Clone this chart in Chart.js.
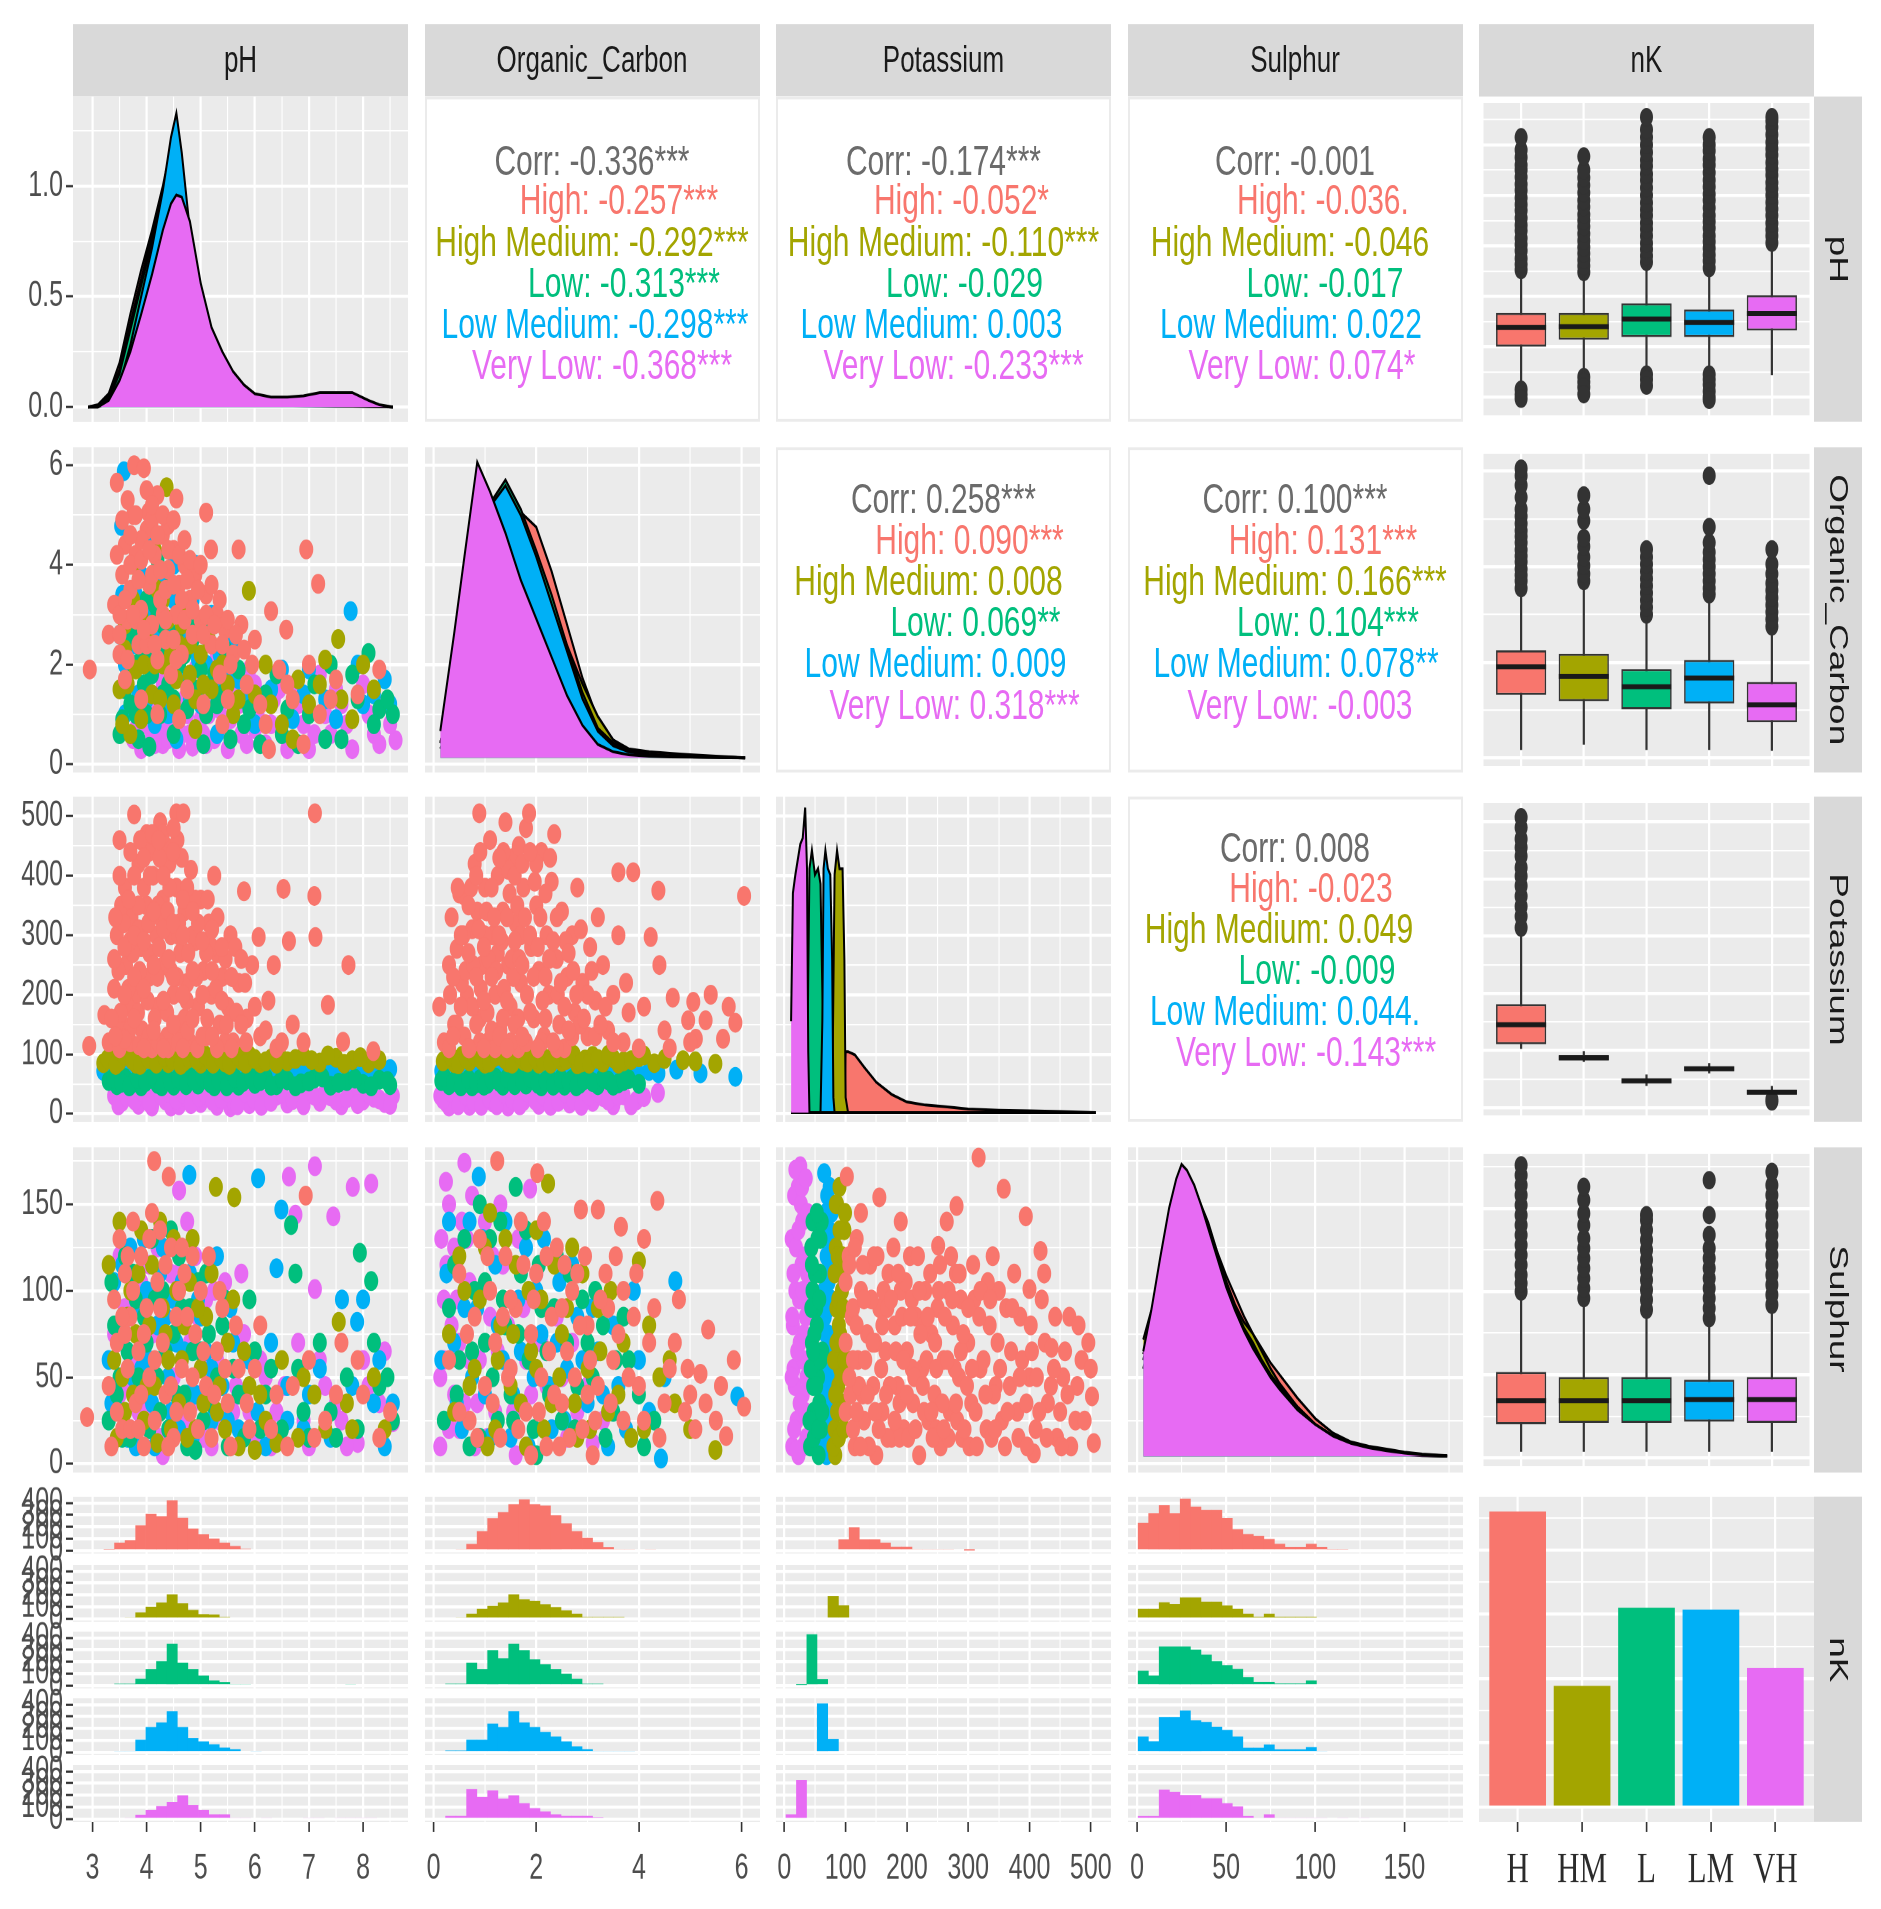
<!DOCTYPE html>
<html>
<head>
<meta charset="utf-8">
<title>Pairs plot by nK class</title>
<script src="https://cdn.jsdelivr.net/npm/chart.js@4.4.1/dist/chart.umd.min.js"></script>
<style>
  html, body { margin: 0; padding: 0; background: #ffffff; }
  body { width: 1881px; height: 1909px; overflow: hidden; }
  #fig { position: relative; width: 1881px; height: 1345px; transform: scaleY(1.42); transform-origin: 0 0;
         font-family: "Liberation Sans", Arial, sans-serif; }
  .strip { position: absolute; background: #D9D9D9; color: #1A1A1A; font-size: 26px;
           display: flex; align-items: center; justify-content: center; }
  .strip.side { writing-mode: vertical-rl; }
  .corr { position: absolute; background: #fff; border: 2px solid #EBEBEB; box-sizing: border-box; overflow: hidden; }
  .corr div { position: absolute; left: 0; width: 100%; text-align: center; white-space: nowrap;
              font-size: 30px; line-height: 30px; height: 30px; }
</style>
</head>
<body>
<div id="fig"></div>
<script>
// ---------------- data ----------------
const groups = ['High', 'High Medium', 'Low', 'Low Medium', 'Very Low'];
const barLabels = ['H', 'HM', 'L', 'LM', 'VH'];
const colors = ['#F8766D', '#A3A500', '#00BF7D', '#00B0F6', '#E76BF3'];
const varNames = ['pH', 'Organic_Carbon', 'Potassium', 'Sulphur', 'nK'];
const groupCounts = [2300, 943, 1551, 1536, 1084];

// axis limits (ggplot padding included) and major ticks
const pHLim = [2.64, 8.83], pHTicks = [3, 4, 5, 6, 7, 8];
const ocLim = [-0.168, 6.36], ocTicks = [0, 2, 4, 6];
const kLim = [-13.6, 533], kTicks = [0, 100, 200, 300, 400, 500];
const sLim = [-5.06, 182.9], sTicks = [0, 50, 100, 150];
const densTicks = [0, 0.5, 1.0];
const countTicks = [0, 100, 200, 300, 400];
const barTicks = [0, 500, 1000, 1500, 2000];

// correlation panels
const corr_pH_OC = ['Corr: -0.336***', 'High: -0.257***', 'High Medium: -0.292***', 'Low: -0.313***', 'Low Medium: -0.298***', 'Very Low: -0.368***'];
const corr_pH_K  = ['Corr: -0.174***', 'High: -0.052*', 'High Medium: -0.110***', 'Low: -0.029', 'Low Medium: 0.003', 'Very Low: -0.233***'];
const corr_pH_S  = ['Corr: -0.001', 'High: -0.036.', 'High Medium: -0.046', 'Low: -0.017', 'Low Medium: 0.022', 'Very Low: 0.074*'];
const corr_OC_K  = ['Corr: 0.258***', 'High: 0.090***', 'High Medium: 0.008', 'Low: 0.069**', 'Low Medium: 0.009', 'Very Low: 0.318***'];
const corr_OC_S  = ['Corr: 0.100***', 'High: 0.131***', 'High Medium: 0.166***', 'Low: 0.104***', 'Low Medium: 0.078**', 'Very Low: -0.003'];
const corr_K_S   = ['Corr: 0.008', 'High: -0.023', 'High Medium: 0.049', 'Low: -0.009', 'Low Medium: 0.044.', 'Very Low: -0.143***'];

// densities (H, HM, L, LM, VL)
const DX_PH = [2.92,3.1,3.3,3.5,3.7,3.9,4.1,4.3,4.45,4.55,4.65,4.8,5.0,5.2,5.4,5.6,5.8,6.0,6.3,6.6,6.9,7.2,7.5,7.8,8.1,8.3,8.55];
const DENS_PH = [
  [0,0.01,0.06,0.2,0.42,0.62,0.8,1.0,1.18,1.26,1.1,0.8,0.5,0.3,0.18,0.1,0.05,0.03,0.015,0.01,0.008,0.005,0.005,0.005,0.003,0.002,0],
  [0,0.005,0.05,0.17,0.38,0.58,0.78,0.98,1.15,1.22,1.08,0.78,0.48,0.28,0.15,0.08,0.04,0.02,0.01,0.008,0.005,0.004,0.003,0.003,0.002,0.001,0],
  [0,0.005,0.04,0.15,0.35,0.55,0.75,0.95,1.15,1.25,1.1,0.78,0.47,0.28,0.16,0.09,0.05,0.03,0.02,0.015,0.01,0.01,0.01,0.015,0.008,0.003,0],
  [0,0,0.02,0.1,0.28,0.5,0.72,0.98,1.22,1.33,1.15,0.8,0.48,0.28,0.16,0.09,0.05,0.03,0.015,0.01,0.008,0.006,0.005,0.004,0.003,0.002,0],
  [0,0,0.03,0.12,0.25,0.42,0.6,0.8,0.92,0.96,0.95,0.84,0.56,0.36,0.25,0.16,0.1,0.06,0.045,0.045,0.05,0.065,0.065,0.065,0.03,0.01,0]
];
const DX_OC = [0.13,0.4,0.6,0.85,1.1,1.4,1.7,2.0,2.3,2.6,2.9,3.2,3.5,3.8,4.2,4.6,5.0,5.5,6.07];
const DENS_OC = [
  [0.03,0.15,0.3,0.5,0.65,0.76,0.83,0.78,0.63,0.45,0.27,0.13,0.06,0.03,0.02,0.015,0.01,0.005,0],
  [0.05,0.25,0.45,0.7,0.84,0.9,0.8,0.68,0.53,0.38,0.25,0.14,0.06,0.025,0.012,0.006,0.003,0.002,0],
  [0.05,0.25,0.45,0.7,0.86,0.94,0.84,0.7,0.55,0.38,0.22,0.1,0.05,0.02,0.01,0.005,0.003,0.002,0],
  [0.05,0.25,0.45,0.7,0.85,0.92,0.82,0.68,0.52,0.36,0.2,0.09,0.04,0.02,0.01,0.005,0.003,0.002,0],
  [0.09,0.42,0.68,1.0,0.9,0.76,0.6,0.47,0.34,0.21,0.11,0.045,0.02,0.01,0.005,0.003,0.002,0.001,0]
];
const DX_K = [11,14,18,22,26,30,34,37,39,41,45,50,55,59,62,64,67,71,75,78,80,82,86,90,95,98,100,104,115,130,150,175,200,230,260,300,350,400,450,508];
const DENS_K = [
  [0,0,0,0,0,0,0,0,0,0, 0,0,0,0,0,0,0,0,0,0, 0,0,0,0,0,0, 0.2,0.2,0.19,0.15,0.1,0.06,0.035,0.025,0.02,0.012,0.008,0.006,0.004,0],
  [0,0,0,0,0,0,0,0,0,0, 0,0,0,0,0,0,0,0,0,0, 0.4,0.78,0.86,0.8,0.8,0.5,0.05, 0,0,0,0,0,0,0,0,0,0,0,0,0],
  [0,0,0,0,0,0,0,0, 0.45,0.8,0.86,0.78,0.8,0.75,0.4,0.05, 0,0,0,0,0,0,0,0,0,0,0,0,0,0,0,0,0,0,0,0,0,0,0,0],
  [0,0,0,0,0,0,0,0,0,0,0,0,0,0, 0.3,0.8,0.86,0.8,0.78,0.5,0.05, 0,0,0,0,0,0,0,0,0,0,0,0,0,0,0,0,0,0,0],
  [0.3,0.72,0.78,0.83,0.88,0.9,1.0,0.8,0.2,0, 0,0,0,0,0,0,0,0,0,0, 0,0,0,0,0,0,0,0,0,0, 0,0,0,0,0,0,0,0,0,0]
];
const DX_S = [3.5,8,13,18,22,25,28,32,36,40,45,50,55,60,65,70,75,80,90,100,110,120,130,140,150,160,174];
const DENS_S = [
  [0.3,0.42,0.6,0.78,0.88,0.93,0.95,0.92,0.86,0.8,0.7,0.62,0.55,0.48,0.42,0.37,0.32,0.28,0.2,0.13,0.08,0.05,0.035,0.025,0.015,0.008,0.003],
  [0.4,0.5,0.62,0.75,0.84,0.9,0.93,0.91,0.86,0.79,0.7,0.6,0.52,0.46,0.42,0.36,0.3,0.25,0.17,0.11,0.07,0.04,0.025,0.015,0.01,0.005,0.002],
  [0.33,0.45,0.64,0.8,0.9,0.96,0.97,0.93,0.86,0.78,0.68,0.59,0.51,0.44,0.39,0.33,0.28,0.24,0.17,0.11,0.07,0.04,0.025,0.015,0.008,0.004,0.001],
  [0.35,0.47,0.66,0.83,0.93,0.98,0.97,0.92,0.85,0.77,0.67,0.58,0.5,0.43,0.38,0.32,0.27,0.23,0.16,0.1,0.06,0.035,0.02,0.012,0.007,0.003,0.001],
  [0.36,0.5,0.68,0.85,0.95,1.0,0.98,0.93,0.86,0.78,0.68,0.58,0.5,0.43,0.37,0.32,0.27,0.23,0.16,0.11,0.07,0.045,0.03,0.02,0.012,0.006,0.002]
];

// histogram bins (centres) and counts per class
const BINS_PH = [2.92,3.11,3.31,3.50,3.70,3.89,4.08,4.28,4.47,4.67,4.86,5.05,5.25,5.44,5.64,5.83,6.02,6.22,6.41,6.61,6.80,6.99,7.19,7.38,7.58,7.77,7.96,8.16,8.35,8.55];
const HIST_PH = [
  [0,0,10,69,89,213,310,289,420,275,186,138,103,69,41,17,0,0,0,0,0,0,0,0,0,0,0,0,0,0],
  [0,0,0,0,14,55,103,138,206,131,76,41,38,17,0,0,0,0,0,0,0,0,0,0,0,0,0,0,0,0],
  [0,0,0,17,17,58,138,206,351,193,138,86,45,31,14,14,0,0,0,0,0,0,0,0,0,14,0,0,0,0],
  [0,0,0,14,14,107,213,251,344,213,120,93,69,41,28,0,14,0,0,0,0,0,0,0,0,0,0,0,0,0],
  [0,0,0,0,14,38,79,110,144,200,120,79,41,41,14,14,0,14,0,0,0,14,14,0,14,14,14,14,0,0]
];
const BINS_OC = [0.13,0.33,0.54,0.74,0.95,1.15,1.36,1.56,1.77,1.97,2.18,2.38,2.59,2.79,3.00,3.20,3.41,3.61,3.82,4.02,4.23,4.43,4.64,4.84,5.05,5.25,5.46,5.66,5.87,6.07];
const HIST_OC = [
  [0,0,14,58,165,272,323,389,430,389,378,296,230,165,110,72,31,14,14,0,14,0,0,0,0,0,0,0,0,0],
  [0,0,14,45,86,110,138,206,165,151,124,100,72,45,17,17,17,17,0,0,0,0,0,0,0,0,0,0,0,0],
  [0,17,17,193,138,296,230,351,296,220,179,138,100,58,17,17,0,0,0,0,0,0,0,0,0,0,0,0,0,0],
  [0,17,17,107,107,241,213,344,251,213,172,134,93,52,28,14,14,14,14,0,0,0,0,0,0,0,0,0,0,0],
  [0,28,28,251,186,241,172,200,134,93,65,41,28,28,28,17,0,0,0,0,0,0,0,0,0,0,0,0,0,0]
];
const BINS_K = [11,28,45,62,80,97,114,131,148,165,182,200,217,234,251,268,285,302,319,337,354,371,388,405,422,440,457,474,491,508];
const HIST_K = [
  [0,0,0,0,0,96,196,96,96,69,34,34,14,14,14,14,0,4,0,0,0,0,0,0,0,0,0,0,0,0],
  [0,0,0,0,191,114,0,0,0,0,0,0,0,0,0,0,0,0,0,0,0,0,0,0,0,0,0,0,0,0],
  [0,7,430,55,0,0,0,0,0,0,0,0,0,0,0,0,0,0,0,0,0,0,0,0,0,0,0,0,0,0],
  [0,0,0,409,114,0,0,0,0,0,0,0,0,0,0,0,0,0,0,0,0,0,0,0,0,0,0,0,0,0],
  [41,327,0,0,0,0,0,0,0,0,0,0,0,0,0,0,0,0,0,0,0,0,0,0,0,0,0,0,0,0]
];
const BINS_S = [3.5,9.4,15.3,21.2,27.1,33.0,38.9,44.8,50.6,56.5,62.4,68.3,74.2,80.1,86.0,91.9,97.8,103.7,109.6,115.4,121.4,127.3,133.2,139.1,145.0,150.8,156.8,162.7,168.6,174.4];
const HIST_S = [
  [234,314,381,314,435,368,341,341,274,180,140,126,99,59,32,32,59,32,11,11,0,0,0,0,0,0,0,0,0,0],
  [86,86,140,126,180,180,145,145,113,86,45,19,45,19,19,19,19,0,0,0,0,0,0,0,0,0,0,0,0,0],
  [126,86,327,327,327,301,260,206,172,140,72,32,32,19,19,19,45,0,0,0,0,0,0,0,0,0,0,0,0,0],
  [134,94,296,296,349,268,255,215,188,134,40,40,67,27,27,27,45,14,0,0,0,0,0,0,0,0,0,0,0,0],
  [27,27,247,228,202,202,175,175,134,107,27,14,41,14,14,14,14,14,0,14,0,14,0,0,0,0,0,0,0,0]
];

// box plots: [lower whisker, q1, median, q3, upper whisker] per class
const BOX_PH = [[3.23,4.00,4.38,4.67,5.46],[3.47,4.14,4.40,4.67,5.42],[3.53,4.19,4.55,4.86,5.61],[3.53,4.19,4.48,4.74,5.50],[3.44,4.32,4.66,5.02,5.99]];
const BOX_OC = [[0.17,1.32,1.91,2.25,3.49],[0.28,1.19,1.71,2.18,3.62],[0.17,1.02,1.49,1.86,2.95],[0.17,1.14,1.67,2.05,3.36],[0.15,0.75,1.11,1.59,2.69]];
const BOX_K  = [[103,111,145,181,300],[80,83,87,92,99],[38,43,47,51,58],[60,64,68,72,78],[18,23,27,31,38]];
const BOX_S  = [[3.6,20.1,34.3,51.6,97.6],[3.6,21,34.3,48.6,93.8],[3.6,21,34.3,48.6,86.3],[3.6,21.7,35,47,82],[3.6,21,35,48.6,90]];
const OUT_PH = [
  [5.52,5.63,5.75,5.9,6.02,6.15,6.3,6.41,6.55,6.7,6.82,6.95,7.1,7.22,7.36,7.5,7.6,7.75,7.9,8.15,3.15,3.05,2.97],
  [5.48,5.6,5.72,5.85,5.97,6.1,6.24,6.38,6.5,6.62,6.77,6.9,7.05,7.2,7.35,7.5,7.77,3.4,3.3,3.2,3.06],
  [5.68,5.8,5.93,6.05,6.2,6.33,6.45,6.6,6.72,6.85,7.0,7.15,7.3,7.42,7.58,7.7,7.85,8.0,8.15,8.3,8.55,3.45,3.35,3.23],
  [5.56,5.7,5.82,5.95,6.08,6.2,6.35,6.48,6.6,6.75,6.9,7.02,7.17,7.3,7.45,7.6,7.72,7.88,8.0,8.15,3.45,3.35,3.25,3.12,3.0,2.95],
  [6.06,6.2,6.32,6.45,6.6,6.73,6.86,7.0,7.13,7.25,7.4,7.52,7.65,7.8,7.92,8.05,8.2,8.35,8.48,8.55]
];
const OUT_OC = [
  [3.55,3.7,3.82,3.95,4.1,4.22,4.35,4.5,4.63,4.75,4.9,5.05,5.2,5.45,5.7,5.9,6.05],
  [3.7,3.85,4.02,4.2,4.42,4.6,4.96,5.2,5.49],
  [3.0,3.15,3.3,3.45,3.6,3.75,3.9,4.05,4.2,4.36],
  [3.42,3.55,3.7,3.85,4.0,4.15,4.3,4.5,4.83,5.9],
  [2.75,2.9,3.05,3.2,3.35,3.5,3.65,3.85,4.05,4.36]
];
const OUT_K = [[315,335,352,370,388,405,420,440,455,470,490,508],[],[],[],[11,14]];
const OUT_S = [
  [100,105,110,116,122,128,134,140,146,152,158,164,170,176],
  [96,102,108,114,120,126,132,140,147,155,163],
  [89,95,101,107,113,119,125,131,137,143,146],
  [84,90,96,102,108,114,120,126,134,146,167],
  [92,98,104,110,116,122,128,134,140,146,152,158,164,172]
];

// scatter points "x,y" per class (H, HM, L, LM, VL)
const SC_PH_OC = [
  '2.95,1.9 3.3,2.6 3.4,3.2 3.45,5.65 3.5,2.2 3.55,3.8 3.6,4.4 3.65,2.9 3.7,3.5 3.75,5.0 3.77,6.0 3.8,4.2 3.85,2.4 3.9,3.1 3.95,5.94 4.0,4.7 4.03,5.05 4.05,3.6 4.1,2.8 4.15,4.2 4.2,5.4 4.25,3.3 4.3,4.6 4.35,2.5 4.4,3.9 4.45,1.8 4.5,4.3 4.55,5.33 4.55,3.0 4.6,3.6 4.65,2.2 4.7,4.0 4.75,1.5 4.8,3.3 4.85,2.6 4.9,3.8 5.0,2.9 5.05,1.2 5.1,5.05 5.1,3.4 5.2,2.4 5.19,4.31 5.3,3.0 5.35,1.8 5.45,2.7 5.5,1.3 5.6,2.2 5.7,4.31 5.75,2.8 5.85,1.6 6.0,2.5 6.1,1.2 6.26,0.3 6.3,3.07 6.45,1.9 6.58,2.7 6.7,1.3 6.95,4.31 7.17,3.62 7.2,1.0 7.5,1.7 7.9,1.4 3.9,1.3 4.2,1.0 3.6,1.7 4.6,0.9 5.4,0.8 6.9,0.4 3.5,3.0 3.7,4.0 3.9,4.5 4.1,3.8 4.3,3.0 4.5,2.5 4.7,2.9 4.2,2.1 4.0,2.4 3.8,2.9 4.4,4.8 4.1,4.9 ' +
  '3.45,4.2 3.55,4.9 3.65,5.3 3.7,4.6 3.8,5.0 3.85,3.7 3.9,4.1 4.0,5.5 4.05,4.3 4.1,5.2 4.2,4.6 4.25,3.9 4.3,5.0 4.35,3.5 4.4,4.3 4.5,3.6 4.5,4.9 4.6,4.2 4.65,3.3 4.7,4.5 4.75,3.7 4.8,4.1 4.85,3.1 4.95,3.5 5.0,4.0 5.05,2.6 5.1,3.0 5.2,3.6 5.25,2.8 5.35,3.3 5.4,2.4 5.5,2.9 5.55,2.0 5.65,2.6 5.8,2.3 5.95,2.0 3.6,3.3 3.75,3.0 3.95,2.7 4.15,2.4 4.35,2.9 4.55,2.1 3.5,2.6 3.65,2.1 6.2,0.8 6.6,1.6 7.0,2.0 7.4,1.3 8.3,1.9',
  '3.5,1.5 3.6,2.3 3.7,0.6 3.8,1.9 3.9,3.0 4.0,2.6 4.1,1.4 4.2,3.5 4.3,2.0 4.37,5.56 4.4,2.9 4.5,1.2 4.6,2.4 4.7,3.1 4.8,1.8 4.9,0.7 5.0,2.2 5.2,1.5 5.4,2.0 5.6,1.0 5.89,3.48 6.0,1.4 6.2,2.0 6.5,0.8 6.8,1.7 7.0,1.2 7.3,2.1 7.54,2.51 7.8,0.9 8.2,1.5 3.75,4.0 4.15,4.3 3.55,0.8 ' +
  '3.65,1.6 3.75,3.3 3.9,0.9 3.95,2.0 4.05,3.6 4.15,2.0 4.25,1.3 4.3,3.3 4.45,2.2 4.55,1.7 4.65,2.8 4.8,2.4 4.9,1.3 5.05,1.6 5.15,2.5 5.3,1.9 5.5,1.6 5.7,1.3 3.6,2.8 6.3,1.2 6.7,0.5 7.2,1.6 7.6,1.3 8.0,2.0',
  '3.55,0.9 3.7,1.2 3.75,2.0 3.85,0.5 3.95,1.6 4.0,3.3 4.05,0.35 4.1,2.3 4.2,4.1 4.25,1.0 4.3,2.8 4.4,1.6 4.45,3.6 4.5,0.6 4.6,2.0 4.65,3.2 4.75,1.1 4.85,2.5 4.95,1.5 5.05,0.4 5.15,2.8 5.3,1.2 5.45,2.3 5.55,0.5 5.7,1.9 5.9,1.1 6.1,0.4 6.4,1.8 6.6,1.1 6.8,0.4 7.1,1.6 7.6,0.5 7.9,1.3 8.1,2.23 8.3,1.1 8.55,1.0 8.45,1.3 7.4,2.0 3.5,0.6 ' +
  '3.6,1.5 3.7,2.6 3.8,1.0 3.9,2.1 4.0,1.0 4.1,1.8 4.2,3.0 4.3,1.4 4.35,2.3 4.5,1.3 4.55,2.6 4.7,2.2 4.8,1.6 4.9,2.9 5.0,1.9 5.1,1.0 5.25,1.8 5.4,1.4 5.6,1.2 5.8,0.8 4.15,3.2 3.85,2.8 6.2,1.4 6.5,0.6 7.0,1.0 7.3,0.5 7.8,1.8 8.2,0.8',
  '3.58,5.88 3.53,4.78 3.5,2.6 3.6,1.0 3.75,2.4 3.85,1.4 3.9,3.8 4.0,2.0 4.1,4.6 4.15,0.8 4.2,2.6 4.3,3.6 4.35,1.3 4.45,2.3 4.5,4.0 4.55,0.5 4.6,3.0 4.7,1.7 4.8,2.6 4.9,4.0 5.0,1.2 5.1,2.0 5.2,3.0 5.3,0.6 5.4,1.6 5.6,2.5 5.8,1.3 6.0,0.8 6.3,1.5 6.7,0.9 7.0,1.9 7.3,1.3 7.77,3.07 7.9,2.0 8.2,1.4 8.4,1.7 ' +
  '3.55,3.4 3.7,2.8 3.8,3.4 3.95,2.3 4.05,3.0 4.15,3.5 4.25,2.2 4.4,2.7 4.5,3.3 4.6,1.9 4.75,2.3 4.85,3.3 4.95,2.1 5.05,2.6 5.2,1.6 5.35,2.2 5.5,1.9 5.7,1.7 3.6,2.0 4.0,1.3 4.4,1.0 4.8,1.3 6.5,1.9 6.9,1.4 7.5,0.9 8.0,1.2 8.5,1.2',
  '3.7,1.1 3.8,0.7 3.9,0.3 4.0,1.5 4.1,0.6 4.2,1.9 4.3,0.4 4.35,1.2 4.45,0.8 4.5,2.3 4.6,0.3 4.7,1.3 4.8,0.6 4.9,1.9 5.0,0.9 5.1,0.4 5.2,1.4 5.3,2.2 5.4,0.7 5.5,0.3 5.6,1.5 5.75,0.6 5.9,1.9 6.05,1.0 6.2,0.4 6.35,1.3 6.5,0.6 6.7,1.5 6.9,0.8 7.0,0.3 7.2,1.8 7.4,0.6 7.6,1.2 7.8,0.3 8.0,1.6 8.2,0.6 8.4,1.2 8.6,0.48 7.5,1.5 6.0,1.6 ' +
  '3.75,0.5 3.85,1.1 3.95,0.8 4.05,1.2 4.15,0.4 4.25,0.7 4.3,1.6 4.4,0.5 4.55,1.0 4.65,0.6 4.75,1.0 4.85,0.35 4.95,1.3 5.05,0.6 5.15,1.0 5.25,0.5 5.35,1.1 5.45,1.8 5.55,0.9 5.7,1.2 5.85,0.4 6.0,0.7 6.15,1.3 6.3,0.8 6.45,1.5 6.6,0.3 6.8,1.2 7.1,0.6 7.3,1.0 7.7,0.8 8.1,1.0 8.3,0.4 8.5,0.8'
];
const SC_PH_K = [
  '2.94,114 3.22,166 3.3,120 3.4,210 3.45,300 3.5,460 3.55,150 3.6,380 3.62,250 3.7,120 3.72,330 3.77,503 3.8,200 3.85,420 3.9,280 3.92,140 4.0,470 4.0,350 4.05,230 4.1,110 4.12,400 4.18,300 4.2,180 4.25,490 4.3,360 4.32,250 4.38,130 4.42,420 4.45,300 4.5,200 4.55,505 4.55,380 4.6,150 4.62,270 4.68,505 4.7,340 4.75,220 4.8,120 4.82,410 4.9,290 4.95,180 5.0,360 5.05,240 5.1,130 5.15,320 5.2,200 5.25,400 5.3,270 5.35,150 5.4,230 5.5,180 5.55,300 5.6,120 5.7,220 5.8,374 5.85,160 5.95,250 6.07,297 6.1,130 6.25,190 6.4,110 6.53,378 6.63,290 6.7,150 6.9,120 7.11,505 7.1,366 7.12,297 7.35,183 7.63,121 7.73,250 8.19,105 3.65,180 4.15,160 4.85,300 4.35,450 3.95,380 5.45,120 4.65,430 3.75,270 4.05,440 4.25,330 4.45,240 4.7,160 4.9,360 5.2,280 3.58,320 3.85,350 4.6,320 ' +
  '3.5,110 3.52,170 3.48,240 3.53,350 3.5,400 3.68,140 3.66,210 3.69,290 3.67,360 3.7,440 3.86,115 3.84,170 3.87,240 3.85,310 3.88,460 4.04,130 4.02,190 4.05,270 4.03,320 4.06,400 4.22,120 4.2,230 4.23,280 4.21,350 4.24,430 4.4,110 4.38,170 4.41,260 4.39,340 4.42,380 4.58,120 4.56,230 4.59,300 4.57,460 4.76,140 4.74,190 4.77,270 4.75,380 4.94,110 4.92,230 4.95,320 5.12,160 5.1,270 5.13,360 5.3,110 5.28,210 5.31,330 5.48,150 5.46,260 5.66,170 5.64,280 5.84,120 5.82,220 6.0,180 6.2,140 6.35,250 6.5,120 3.4,260 3.35,160 4.3,470 4.1,470 ' +
  '3.59,125 3.59,200 3.59,280 3.77,160 3.77,230 3.77,300 3.77,400 3.95,110 3.95,210 3.95,290 3.95,430 4.13,140 4.13,250 4.13,340 4.31,110 4.31,190 4.31,310 4.31,400 4.49,150 4.49,230 4.49,320 4.49,440 4.67,110 4.67,200 4.67,300 4.67,360 4.85,160 4.85,240 4.85,340 5.03,130 5.03,200 5.03,290 5.21,130 5.21,240 5.21,310 5.39,190 5.39,280 5.57,110 5.57,230 5.75,150 5.75,260 3.42,130 3.42,330 4.22,460 4.5,480',
  '3.2,85 3.35,95 3.5,88 3.65,98 3.8,84 3.95,95 4.0,100 4.1,90 4.25,98 4.4,85 4.55,94 4.7,88 4.85,97 5.0,84 5.15,92 5.3,98 5.45,86 5.6,95 5.75,89 5.9,98 6.1,85 6.3,93 6.45,99 6.6,88 6.9,97 7.2,86 7.5,94 7.8,90 8.1,85 ' +
  '3.28,92 3.43,82 3.58,99 3.73,90 3.88,82 4.03,92 4.18,84 4.33,95 4.48,90 4.63,82 4.78,93 4.93,90 5.08,99 5.23,84 5.38,93 5.53,82 5.68,97 5.83,84 6.0,92 6.2,88 6.4,84 6.75,92 7.05,90 7.35,98 7.65,84 7.95,95 8.3,90',
  '3.3,55 3.45,48 3.6,60 3.75,52 3.9,46 4.05,58 4.2,50 4.35,61 4.5,47 4.65,55 4.8,62 4.95,49 5.1,57 5.25,46 5.4,60 5.55,52 5.7,47 5.85,58 6.0,50 6.2,61 6.4,48 6.6,56 6.85,51 7.1,59 7.4,47 7.7,55 8.0,50 8.3,57 8.5,48 ' +
  '3.38,60 3.53,52 3.68,46 3.83,59 3.98,53 4.13,62 4.28,46 4.43,55 4.58,60 4.73,48 4.88,56 5.03,62 5.18,51 5.33,56 5.48,46 5.63,60 5.78,53 5.93,62 6.1,55 6.3,47 6.5,59 6.75,46 7.0,54 7.25,61 7.55,52 7.85,59 8.15,46 8.45,55',
  '3.2,72 3.35,68 3.5,76 3.65,70 3.8,78 3.95,66 4.1,74 4.25,69 4.4,77 4.55,67 4.7,75 4.85,70 5.0,78 5.15,66 5.3,73 5.45,70 5.6,77 5.75,67 5.9,74 6.1,70 6.3,77 6.5,67 6.75,73 7.0,70 7.3,76 7.6,68 7.9,73 8.2,66 8.4,71 ' +
  '3.28,65 3.43,74 3.58,66 3.73,75 3.88,71 4.03,78 4.18,66 4.33,73 4.48,70 4.63,78 4.78,66 4.93,74 5.08,70 5.23,76 5.38,67 5.53,75 5.68,71 5.83,78 6.0,67 6.2,74 6.4,70 6.62,77 6.9,66 7.15,74 7.45,70 7.75,77 8.05,69 8.5,75',
  '3.4,30 3.55,20 3.7,35 3.85,15 4.0,27 4.1,12 4.2,36 4.35,22 4.45,12 4.5,31 4.6,14 4.75,25 4.9,37 5.0,18 5.15,29 5.3,13 5.45,33 5.55,11 5.6,21 5.75,28 5.9,16 6.05,34 6.2,24 6.4,30 6.6,17 6.8,26 7.0,35 7.2,20 7.4,29 7.6,14 7.8,32 8.0,22 8.2,27 8.4,18 8.55,30 ' +
  '3.48,14 3.63,28 3.78,22 3.93,36 4.05,18 4.27,30 4.4,36 4.55,24 4.68,33 4.82,16 4.97,28 5.08,34 5.22,21 5.38,25 5.5,36 5.68,14 5.83,35 5.98,25 6.12,13 6.3,20 6.5,35 6.7,23 6.9,14 7.1,30 7.3,36 7.5,22 7.7,26 7.9,16 8.1,34 8.3,24 8.5,15'
];
const SC_OC_K = [
  '0.11,180 0.2,120 0.3,250 0.35,330 0.4,150 0.45,277 0.5,370 0.6,366 0.65,200 0.7,110 0.75,310 0.8,420 0.89,505 0.9,160 0.95,250 1.0,380 1.05,120 1.1,460 1.15,300 1.2,200 1.25,400 1.25,270 1.3,140 1.35,340 1.4,490 1.45,250 1.5,180 1.55,430 1.6,320 1.65,110 1.7,220 1.75,380 1.8,480 1.86,505 1.9,280 1.95,160 2.0,350 2.05,240 2.1,440 2.15,130 2.2,300 2.25,200 2.3,390 2.35,470 2.4,260 2.45,150 2.5,340 2.55,110 2.6,230 2.7,300 2.75,170 2.8,380 2.9,220 3.0,130 3.05,280 3.15,190 3.3,250 3.4,140 3.5,200 3.6,406 3.7,120 3.8,170 3.89,406 4.0,110 4.23,297 4.38,375 4.5,140 4.66,195 4.96,157 5.06,188 5.11,126 5.3,157 5.64,126 5.88,153 6.05,366 0.55,220 1.0,300 1.45,410 1.7,300 2.0,420 2.4,330 0.85,340 1.55,230 ' +
  '0.3,110 0.32,200 0.45,150 0.47,380 0.6,130 0.62,240 0.58,300 0.75,180 0.77,250 0.73,380 0.9,120 0.92,210 0.88,310 0.91,440 1.05,170 1.07,260 1.03,340 1.2,110 1.22,240 1.18,330 1.35,160 1.37,210 1.33,290 1.36,440 1.5,120 1.52,260 1.48,370 1.65,160 1.67,260 1.63,350 1.66,450 1.8,120 1.82,200 1.78,330 1.95,230 1.97,390 2.1,120 2.12,190 2.08,330 2.25,260 2.27,430 2.4,110 2.42,200 2.55,180 2.57,290 2.7,130 2.72,240 2.85,150 2.87,310 3.0,200 3.15,130 3.2,330 3.35,180 3.5,120 3.6,300 3.75,220 4.1,180 4.4,250 4.6,110 5.0,120 5.4,200 5.75,180 ' +
  '0.38,130 0.38,230 0.53,180 0.53,300 0.68,110 0.68,270 0.68,350 0.83,150 0.83,230 0.83,400 0.98,110 0.98,190 0.98,280 1.13,140 1.13,230 1.13,380 1.28,130 1.28,300 1.28,430 1.43,110 1.43,190 1.43,330 1.58,150 1.58,290 1.58,400 1.73,130 1.73,250 1.73,420 1.88,170 1.88,300 1.88,440 2.03,110 2.03,280 2.18,160 2.18,230 2.18,370 2.33,120 2.33,290 2.48,220 2.63,140 2.63,270 2.78,200 2.93,160 3.08,240 3.25,150',
  '0.25,92 0.4,85 0.55,97 0.7,88 0.85,95 1.0,84 1.15,93 1.3,99 1.45,86 1.6,94 1.75,89 1.9,97 2.05,84 2.2,92 2.35,98 2.5,87 2.65,95 2.8,83 2.95,91 3.1,97 3.3,86 3.5,93 3.7,88 4.0,95 4.3,85 4.86,90 5.49,84 ' +
  '0.18,88 0.33,97 0.48,83 0.63,93 0.78,99 0.93,90 1.08,86 1.23,97 1.38,92 1.53,84 1.68,99 1.83,86 1.98,93 2.13,89 2.28,84 2.43,95 2.58,90 2.73,99 2.88,86 3.03,84 3.2,92 3.4,99 3.6,84 3.85,90 4.1,98 4.5,92 5.1,88',
  '0.15,55 0.3,48 0.45,60 0.6,52 0.75,46 0.9,58 1.05,50 1.2,61 1.35,47 1.5,56 1.65,62 1.8,49 1.95,57 2.1,46 2.25,60 2.4,52 2.55,47 2.7,58 2.85,50 3.0,61 3.2,48 3.4,56 3.6,51 3.8,58 ' +
  '0.2,62 0.38,53 0.53,46 0.68,58 0.83,51 0.98,47 1.13,57 1.28,53 1.43,60 1.58,48 1.73,55 1.88,61 2.03,50 2.18,55 2.33,47 2.48,59 2.63,53 2.78,46 2.93,56 3.1,53 3.3,60 3.5,47 3.7,55 4.0,50',
  '0.15,72 0.3,67 0.45,76 0.6,69 0.75,78 0.9,66 1.05,73 1.2,70 1.35,77 1.5,66 1.65,74 1.8,69 1.95,78 2.1,67 2.25,73 2.4,70 2.55,77 2.7,66 2.85,72 3.0,76 3.2,68 3.4,74 3.7,70 4.0,66 4.38,68 4.73,74 5.88,62 ' +
  '0.2,78 0.38,71 0.53,66 0.68,74 0.83,70 0.98,77 1.13,67 1.28,74 1.43,70 1.58,78 1.73,66 1.88,73 2.03,71 2.18,78 2.33,66 2.48,73 2.63,70 2.78,76 2.93,67 3.1,72 3.3,78 3.55,66 3.85,75 4.2,72 5.2,68',
  '0.13,30 0.25,18 0.3,12 0.4,34 0.55,22 0.7,13 0.85,28 1.0,36 1.15,19 1.2,36 1.3,27 1.45,12 1.6,33 1.75,21 1.9,29 2.05,15 2.2,35 2.35,24 2.5,30 2.65,17 2.8,26 2.95,36 3.1,20 3.3,28 3.5,14 3.7,31 3.95,22 4.37,35 ' +
  '0.18,24 0.33,36 0.48,14 0.63,30 0.78,20 0.93,13 1.08,26 1.23,14 1.38,33 1.53,24 1.68,14 1.83,36 1.98,22 2.13,30 2.28,13 2.43,20 2.58,34 2.73,22 2.88,13 3.03,30 3.2,36 3.4,22 3.6,30 3.85,14 4.1,28'
];
const SC_PH_S = [
  '2.9,27 3.3,45 3.4,95 3.45,70 3.5,130 3.55,20 3.6,110 3.65,55 3.7,85 3.75,140 3.8,35 3.85,65 3.9,120 3.95,10 4.0,90 4.05,50 4.1,145 4.14,175 4.15,25 4.2,105 4.3,70 4.35,40 4.41,166 4.45,125 4.5,15 4.55,85 4.65,55 4.7,110 4.8,30 4.9,75 5.0,100 5.1,45 5.2,15 5.3,65 5.4,90 5.5,35 5.7,55 5.9,20 6.1,80 6.4,40 6.6,10 6.94,155 7.0,60 7.3,25 7.6,70 8.0,40 8.3,15 3.6,75 3.9,40 4.25,135 4.6,100 4.85,120 3.7,20 4.4,10 ' +
  '3.35,10 3.45,30 3.55,85 3.65,120 3.75,100 3.85,20 3.95,75 4.05,130 4.15,60 4.25,90 4.35,115 4.45,45 4.55,30 4.65,125 4.75,85 4.85,50 4.95,20 5.05,65 5.15,120 5.25,40 5.35,100 5.45,55 5.55,10 5.65,80 5.85,35 6.0,55 6.3,20 6.7,45 7.1,15 7.5,40 7.9,60 8.5,30',
  '3.4,60 3.5,140 3.6,30 3.7,100 3.8,75 3.9,135 4.0,45 4.1,115 4.2,12 4.3,90 4.4,60 4.5,130 4.6,35 4.7,80 4.8,105 4.9,20 5.0,55 5.1,85 5.28,160 5.3,30 5.5,70 5.62,154 5.7,10 5.9,45 6.0,8 6.2,25 6.5,60 6.8,15 7.1,40 7.55,82 7.8,20 8.2,50 ' +
  '3.3,115 3.45,15 3.55,50 3.65,85 3.75,40 3.85,110 3.95,25 4.05,80 4.15,45 4.25,140 4.35,75 4.45,20 4.55,100 4.65,60 4.75,15 4.85,130 4.95,90 5.05,35 5.2,110 5.35,45 5.45,20 5.6,95 5.8,65 6.1,40 6.4,12 6.9,50 7.3,20 7.7,35 8.4,20',
  '3.3,25 3.4,80 3.5,50 3.6,120 3.7,15 3.8,95 3.9,40 4.0,70 4.1,130 4.2,50 4.3,100 4.4,20 4.5,75 4.6,120 4.7,40 4.8,90 4.9,8 5.0,65 5.1,110 5.2,35 5.4,80 5.5,10 5.7,40 5.9,95 6.1,20 6.3,55 6.67,138 6.75,110 6.9,30 7.2,70 7.5,15 7.7,50 7.94,122 8.15,105.6 8.3,45 8.55,25 ' +
  '3.35,105 3.45,40 3.55,15 3.65,65 3.75,110 3.85,50 3.95,85 4.05,20 4.15,95 4.25,30 4.35,65 4.45,135 4.55,40 4.65,90 4.75,10 4.85,65 4.95,105 5.05,25 5.15,75 5.3,50 5.45,95 5.6,55 5.8,15 6.0,65 6.2,40 6.5,20 6.8,55 7.0,15 7.4,30 7.9,20 8.2,70 8.45,50',
  '3.3,60 3.4,105 3.5,30 3.6,75 3.7,125 3.8,10 3.9,55 4.0,100 4.1,35 4.2,80 4.3,125 4.4,50 4.5,95 4.6,20 4.7,65 4.79,167 4.8,110 4.9,40 5.0,85 5.2,55 5.3,120 5.5,25 5.6,70 5.8,40 6.06,165 6.2,10 6.4,113 6.49,147 6.6,45 6.9,20 7.2,55 7.61,95 7.89,82 8.0,95 8.2,35 8.4,10 ' +
  '3.35,35 3.45,80 3.55,115 3.65,15 3.75,50 3.85,90 3.95,130 4.05,60 4.15,10 4.25,110 4.35,85 4.45,30 4.55,70 4.65,105 4.75,40 4.85,15 4.95,95 5.1,65 5.2,25 5.4,45 5.55,90 5.7,20 5.9,60 6.05,30 6.3,70 6.6,25 7.0,40 7.4,15 7.8,45 8.3,60 8.55,35',
  '3.5,40 3.6,90 3.7,20 3.8,60 3.9,105 4.0,30 4.1,75 4.2,125 4.3,5 4.4,95 4.5,50 4.6,158 4.6,110 4.7,25 4.8,70 4.9,120 5.0,40 5.1,95 5.2,10 5.3,60 5.45,105 5.6,30 5.8,75 6.0,15 6.2,50 6.4,30 6.63,166 6.75,144 6.8,70 7.0,10 7.11,172 7.11,101 7.3,45 7.45,143 7.6,25 7.81,160 7.9,12 8.0,60 8.15,162 8.3,35 8.55,24 ' +
  '3.4,75 3.5,120 3.65,45 3.75,95 3.85,30 3.95,60 4.05,115 4.15,45 4.25,15 4.35,70 4.45,110 4.55,20 4.65,60 4.75,140 4.85,35 4.95,85 5.05,15 5.15,55 5.25,100 5.35,25 5.5,70 5.65,45 5.75,110 5.9,30 6.1,60 6.3,10 6.55,45 6.9,25 7.2,60 7.5,35 7.7,10 8.1,45 8.4,65'
];
const SC_OC_S = [
  '0.3,60 0.5,110 0.7,25 0.8,85 0.9,130 1.0,45 1.1,100 1.24,175 1.2,70 1.3,15 1.4,120 1.5,55 1.6,90 1.7,140 1.8,30 1.9,75 2.02,168 2.0,110 2.1,50 2.2,10 2.3,85 2.4,125 2.5,35 2.6,65 2.7,100 2.87,147 2.9,20 3.0,80 3.1,5 3.2,147 3.2,45 3.35,110 3.5,60 3.65,137 3.7,25 3.9,85 4.0,45 4.2,70 4.36,152 4.4,15 4.6,55 4.78,95 4.9,30 5.0,40 5.2,52 5.35,77.6 5.5,25 5.7,16 5.85,60 6.05,33 2.2,120 2.8,110 3.4,90 1.5,95 3.0,40 ' +
  '0.5,30 0.65,75 0.85,15 1.05,120 1.15,35 1.35,85 1.45,50 1.65,20 1.75,115 1.95,95 2.05,30 2.15,140 2.25,65 2.35,40 2.5,90 2.55,115 2.65,15 2.75,50 2.85,80 2.95,120 3.05,60 3.15,25 3.25,95 3.45,35 3.55,120 3.6,75 3.8,50 3.95,110 4.1,25 4.3,90 4.5,35 4.7,70 4.95,55 5.1,20 5.3,35 5.6,45 3.7,100 4.1,130 2.45,10 1.9,5',
  '0.4,30 0.6,100 0.8,55 1.0,125 1.1,145 1.2,20 1.3,80 1.5,45 1.6,115 1.8,10 1.9,65 2.0,135 2.1,95 2.23,162 2.3,35 2.5,75 2.7,125 2.8,15 3.0,55 3.2,90 3.4,30 3.7,70 4.0,117 4.1,20 4.4,50 4.7,35 5.49,8 ' +
  '0.3,75 0.5,120 0.7,45 0.9,95 1.05,10 1.25,60 1.4,130 1.55,75 1.7,35 1.85,100 2.0,55 2.15,20 2.35,115 2.45,50 2.6,90 2.75,35 2.9,110 3.05,20 3.25,65 3.45,100 3.6,40 3.85,15 4.2,80 4.6,60 5.0,20',
  '0.3,90 0.45,40 0.6,130 0.75,65 0.9,15 0.9,150 1.0,105 1.15,50 1.3,140 1.4,80 1.55,25 1.6,160 1.7,110 1.85,60 2.0,5 2.1,90 2.25,40 2.4,120 2.6,70 2.75,20 2.9,95 3.1,50 3.3,80 3.5,30 3.8,60 4.1,10 ' +
  '0.2,25 0.4,115 0.5,60 0.7,10 0.8,100 1.0,70 1.1,130 1.25,25 1.35,95 1.5,40 1.65,75 1.8,135 1.95,20 2.05,115 2.2,65 2.35,90 2.5,25 2.65,110 2.8,45 3.0,70 3.15,100 3.35,15 3.55,60 3.7,85 4.0,40 4.3,25',
  '0.25,110 0.4,70 0.55,20 0.7,140 0.88,166 0.85,90 1.0,40 1.2,115 1.35,60 1.5,15 1.65,95 1.8,125 1.95,50 2.1,75 2.3,20 2.45,105 2.6,55 2.8,85 3.0,35 3.2,65 3.4,10 3.6,45 3.9,100 4.2,30 4.43,3 4.71,105.6 5.92,39 ' +
  '0.15,60 0.3,140 0.45,35 0.6,90 0.75,50 0.95,130 1.1,15 1.25,80 1.4,140 1.55,40 1.7,65 1.85,10 2.0,100 2.15,130 2.25,45 2.4,70 2.55,25 2.7,115 2.9,60 3.1,90 3.3,40 3.5,80 3.75,20 4.0,60 4.5,50',
  '0.13,50 0.15,130 0.2,95 0.24,163 0.3,20 0.35,80 0.4,125 0.5,70 0.55,140 0.6,174 0.6,35 0.7,105 0.8,10 0.9,60 1.0,140 1.1,85 1.2,30 1.35,115 1.5,55 1.6,5 1.75,90 1.88,159 1.9,40 2.1,70 2.3,20 2.5,50 2.8,30 3.1,12 ' +
  '0.13,10 0.2,60 0.25,115 0.3,150 0.4,40 0.45,95 0.5,20 0.65,130 0.7,60 0.75,155 0.85,35 0.95,100 1.05,15 1.15,120 1.25,65 1.3,150 1.45,80 1.55,30 1.65,130 1.8,60 2.0,110 2.2,45 2.4,85 2.6,15 2.7,70 3.0,45 3.3,25'
];
const SC_K_S = [
  '102,166 105,120 108,40 110,85 115,10 118,130 120,60 125,100 125,145 130,25 135,75 140,115 145,45 150,5 155,154 155,90 160,30 165,65 170,110 175,15 180,80 185,45 190,100 190,140 195,20 200,65 205,120 210,35 215,85 220,5 225,55 230,100 235,25 240,75 245,40 250,90 251,126 255,10 260,60 265,140 270,30 275,80 280,110 281,149 285,50 290,15 300,70 305,35 310,95 317,177 320,55 330,20 335,80 340,120 345,45 350,100 358,159 360,10 370,65 380,30 385,85 394,143 400,101 400,50 407,6 410,20 418,123 425,70 430,35 436,67 445,15 455,50 465,85 475,25 485,60 496,70 502,39 505,12 112,60 128,40 148,70 168,90 188,15 208,55 228,80 248,20 268,100 288,65 ' +
  '100,30 100,70 100,105 112,20 112,90 115,125 122,45 128,115 132,60 138,10 142,95 148,30 152,120 158,55 162,100 168,15 172,45 178,125 182,65 188,35 192,85 198,105 202,15 208,95 212,50 218,120 222,75 228,30 232,60 238,110 242,15 248,55 252,100 258,35 262,85 268,15 272,120 278,55 282,25 288,95 292,75 298,45 302,10 308,115 312,30 318,85 325,60 332,105 338,15 342,40 348,70 355,25 362,90 368,45 375,110 382,15 388,60 395,35 402,80 412,50 420,95 428,15 435,45 442,85 450,30 458,65 468,10 478,45 490,25 500,55 ' +
  '106,50 106,115 118,30 118,80 124,10 130,95 136,40 144,70 146,120 154,20 160,80 166,40 174,95 180,25 186,110 194,60 200,40 206,85 214,20 220,100 226,45 234,85 240,30 246,70 254,115 260,20 266,60 274,95 280,35 286,110 294,20 300,90 306,55 314,10 320,100 328,40 336,95 344,20 352,55 364,30 372,90 384,50 396,10 404,65 416,30 424,110 440,55 452,10 462,40 480,80',
  '82,20 88,45 95,65 85,90 92,110 98,135 86,150 90,160 83,5 97,35 89,80 94,100 84,125 91,55 ' +
  '80,10 81,60 82,110 83,40 84,150 85,70 86,30 87,120 88,95 89,15 90,135 91,75 93,50 95,120 96,90 97,20 98,60 99,145 92,30',
  '42,10 48,30 55,50 60,20 45,70 52,90 58,110 44,125 50,140 56,5 47,45 62,65 53,80 46,100 59,130 51,60 57,35 ' +
  '41,25 43,55 44,90 46,140 48,15 49,75 50,110 52,45 54,130 55,20 57,95 59,60 61,140 62,30 45,115 53,145 47,65',
  '64,15 70,40 76,60 66,85 72,105 78,125 68,145 74,160 65,168 79,30 71,75 67,95 75,115 69,5 77,50 73,135 ' +
  '63,10 64,60 65,100 66,140 67,30 68,75 69,120 70,155 71,20 72,90 73,50 74,130 75,10 76,95 77,145 78,70 79,110 66,50',
  '13,10 20,25 30,40 15,55 25,70 35,85 18,100 28,115 12,130 33,145 22,160 26,172 36,15 17,45 31,60 14,80 24,95 37,110 19,125 29,140 16,155 34,30 23,5 27,150 ' +
  '12,50 15,110 18,170 21,65 23,135 25,35 27,95 29,160 31,10 32,75 34,120 36,50 38,145 20,8 13,85 35,165 30,100 16,20'
];

// ---------------- layout ----------------
const COLX = [73, 424.5, 776, 1127.5, 1479];
const ROWY = [68.3, 314.8, 561.3, 807.8, 1054.3];
const PW = 335, PH = 229;           // panel size (before the vertical stretch of #fig)
const M = 24, AX_L = 72, AX_B = 56; // canvas margin, left/bottom axis room
const SUB_STEP = 47.2, SUB_H = 40;  // histogram strips inside the nK row
const DOT = 7;
const fig = document.getElementById('fig');

Chart.defaults.font.family = '"Liberation Sans", Arial, sans-serif';
Chart.defaults.animation = false;
Chart.defaults.responsive = true;
Chart.defaults.maintainAspectRatio = false;
Chart.defaults.devicePixelRatio = 2;
Chart.defaults.events = [];
Chart.defaults.plugins.legend.display = false;
Chart.defaults.plugins.tooltip.enabled = false;

Chart.register({
  id: 'panelBg',
  beforeDraw(chart) {
    const { ctx, chartArea: a } = chart;
    ctx.save();
    ctx.fillStyle = '#EBEBEB';
    ctx.fillRect(a.left, a.top, a.width, a.height);
    ctx.restore();
  }
});

const pts = s => s.trim().split(/\s+/).map(p => { const [x, y] = p.split(',').map(Number); return { x, y }; });

function linAxis(min, max, majors, opt = {}) {
  const show = !!opt.show;
  const step = majors.length > 1 ? majors[1] - majors[0] : 1;
  const vals = [];
  if (opt.minor === false) majors.forEach(v => vals.push(v));
  else for (let i = -1; i <= majors.length; i++) {
    const v = majors[0] + i * step, h = v + step / 2;
    if (v >= min && v <= max) vals.push(v);
    if (h >= min && h <= max) vals.push(h);
  }
  const isMajor = v => majors.some(m => Math.abs(m - v) < 1e-6);
  return {
    type: 'linear', min, max, offset: false,
    afterBuildTicks: s => { s.ticks = vals.map(v => ({ value: v })); },
    ticks: {
      display: show, autoSkip: false, maxRotation: 0, minRotation: 0,
      padding: opt.pad ?? 3, color: opt.color || '#4D4D4D',
      font: opt.font || { size: 25 },
      callback: v => isMajor(v) ? (opt.fmt ? opt.fmt(v) : String(v)) : ''
    },
    grid: {
      color: '#FFFFFF', offset: false, drawTicks: show, tickLength: 7, tickWidth: 1.6,
      lineWidth: c => (c.tick && isMajor(c.tick.value)) ? 2.2 : 1.1,
      tickColor: c => (c.tick && isMajor(c.tick.value)) ? '#333333' : 'rgba(0,0,0,0)'
    },
    border: { display: false },
    afterFit: s => { if (s.isHorizontal()) s.height = show ? AX_B : 0; else s.width = show ? AX_L : 0; }
  };
}

function mount(x, y, w, h, axL, axB, cfg) {
  const L = axL ? AX_L : 0, B = axB ? AX_B : 0;
  const d = document.createElement('div');
  d.style.cssText = `position:absolute;left:${x - M - L}px;top:${y - M}px;width:${w + 2 * M + L}px;height:${h + 2 * M + B}px`;
  const cv = document.createElement('canvas');
  d.appendChild(cv);
  fig.appendChild(d);
  cfg.options.layout = { padding: M };
  return new Chart(cv, cfg);
}

const VARS = [
  { lim: pHLim, ticks: pHTicks }, { lim: ocLim, ticks: ocTicks },
  { lim: kLim, ticks: kTicks }, { lim: sLim, ticks: sTicks }
];
const varAxis = (i, opt) => linAxis(VARS[i].lim[0], VARS[i].lim[1], VARS[i].ticks, opt);

// ---------------- strips ----------------
varNames.forEach((name, i) => {
  const top = document.createElement('div');
  top.className = 'strip';
  top.style.cssText = `left:${COLX[i]}px;top:17px;width:${PW}px;height:51.3px`;
  top.textContent = name;
  fig.appendChild(top);
  const side = document.createElement('div');
  side.className = 'strip side';
  side.style.cssText = `left:1814px;top:${ROWY[i]}px;width:48px;height:${PH}px`;
  side.textContent = name;
  fig.appendChild(side);
});

// ---------------- correlation text panels ----------------
const corrPanels = [
  { r: 0, c: 1, lines: corr_pH_OC, dx: [0, 27, 0, 32, 3, 10] },
  { r: 0, c: 2, lines: corr_pH_K,  dx: [0, 18, 0, 21, -12, 10] },
  { r: 0, c: 3, lines: corr_pH_S,  dx: [0, 28, -5, 30, -4, 7] },
  { r: 1, c: 2, lines: corr_OC_K,  dx: [0, 26, -15, 32, -8, 11] },
  { r: 1, c: 3, lines: corr_OC_S,  dx: [0, 28, 0, 33, 1, 5] },
  { r: 2, c: 3, lines: corr_K_S,   dx: [0, 16, -16, 22, -10, 11] }
];
const rowShift = [2, -6, -7];
corrPanels.forEach(p => {
  const box = document.createElement('div');
  box.className = 'corr';
  box.style.cssText = `left:${COLX[p.c]}px;top:${ROWY[p.r]}px;width:${PW}px;height:${PH}px`;
  p.lines.forEach((t, i) => {
    const ln = document.createElement('div');
    ln.textContent = t;
    ln.style.top = (PH / 2 + (i - 2.5) * 28.9 + rowShift[p.r] - 17) + 'px';
    ln.style.transform = `translateX(${p.dx[i]}px)`;
    ln.style.color = i === 0 ? '#6B6B6B' : colors[i - 1];
    box.appendChild(ln);
  });
  fig.appendChild(box);
});

// ---------------- diagonal densities ----------------
const DIAG = [
  [DX_PH, DENS_PH, [-0.067, 1.405]], [DX_OC, DENS_OC, [-0.05, 1.05]],
  [DX_K, DENS_K, [-0.03, 1.036]], [DX_S, DENS_S, [-0.055, 1.058]]
];
DIAG.forEach(([xs, ds, dl], i) => {
  const datasets = ds.map((vals, g) => ({
    label: groups[g],
    data: xs.map((x, k) => ({ x, y: vals[k] })),
    yAxisID: i === 0 ? 'y' : 'yd',
    borderColor: '#000000', borderWidth: 2, backgroundColor: colors[g],
    fill: 'origin', pointRadius: 0, tension: 0, order: 4 - g, clip: 0
  }));
  const scales = { x: varAxis(i, {}) };
  if (i === 0) scales.y = linAxis(dl[0], dl[1], densTicks, { show: true, fmt: v => v.toFixed(1) });
  else {
    scales.y = varAxis(i, {});
    scales.yd = { type: 'linear', display: false, min: dl[0], max: dl[1] };
  }
  mount(COLX[i], ROWY[i], PW, PH, i === 0, false, { type: 'line', data: { datasets }, options: { scales } });
});

// ---------------- scatter panels (lower triangle) ----------------
const SCAT = [[1, 0, SC_PH_OC], [2, 0, SC_PH_K], [2, 1, SC_OC_K], [3, 0, SC_PH_S], [3, 1, SC_OC_S], [3, 2, SC_K_S]];
SCAT.forEach(([r, c, sets]) => {
  const datasets = sets.map((s, g) => ({
    label: groups[g], data: pts(s), backgroundColor: colors[g],
    pointRadius: DOT, borderWidth: 0, pointBorderWidth: 0, clip: 0
  }));
  mount(COLX[c], ROWY[r], PW, PH, c === 0, false, {
    type: 'scatter', data: { datasets },
    options: { scales: { x: varAxis(c, {}), y: varAxis(r, { show: c === 0 }) } }
  });
});

// ---------------- box plots (nK column) ----------------
const BOXES = [[BOX_PH, OUT_PH], [BOX_OC, OUT_OC], [BOX_K, OUT_K], [BOX_S, OUT_S]];
BOXES.forEach(([stats, outs], r) => {
  const outliers = [];
  outs.forEach((list, g) => list.forEach(v => outliers.push({ x: g + 1, y: v })));
  const datasets = [
    { type: 'line', data: stats.map((s, g) => ({ x: g + 1, y: s[2] })), showLine: false,
      pointStyle: 'line', pointRadius: 25, pointBorderWidth: 3.5, pointBorderColor: '#1A1A1A', order: 0, clip: 0 },
    { type: 'bar', data: stats.map((s, g) => ({ x: g + 1, y: [s[1], s[3]] })), backgroundColor: colors,
      borderColor: '#333333', borderWidth: 1.5, borderSkipped: false, barPercentage: 0.8,
      categoryPercentage: 1, grouped: false, order: 1 },
    { type: 'bar', data: stats.map((s, g) => ({ x: g + 1, y: [s[0], s[4]] })), backgroundColor: '#333333',
      barPercentage: 0.035, categoryPercentage: 1, grouped: false, order: 2 },
    { type: 'line', data: outliers, showLine: false, pointRadius: 6.5, pointBackgroundColor: '#333333',
      pointBorderWidth: 0, order: 3, clip: 0 }
  ];
  mount(COLX[4], ROWY[r], PW, PH, false, false, {
    type: 'bar', data: { datasets },
    options: { scales: { x: linAxis(0.4, 5.6, [1, 2, 3, 4, 5], { minor: false }), y: varAxis(r, {}) } }
  });
});

// ---------------- faceted histograms (nK row) ----------------
const HISTS = [[BINS_PH, HIST_PH], [BINS_OC, HIST_OC], [BINS_K, HIST_K], [BINS_S, HIST_S]];
HISTS.forEach(([bins, counts], c) => {
  counts.forEach((vals, g) => {
    const last = g === 4;
    mount(COLX[c], ROWY[4] + g * SUB_STEP, PW, SUB_H, c === 0, last, {
      type: 'bar',
      data: { datasets: [{
        label: groups[g], data: bins.map((b, k) => ({ x: b, y: vals[k] })), backgroundColor: colors[g],
        barThickness: 'flex', barPercentage: 1.03, categoryPercentage: 1, borderWidth: 0, inflateAmount: 0
      }] },
      options: { scales: {
        x: varAxis(c, { show: last, pad: 11 }),
        y: linAxis(-21.5, 451.5, countTicks, { show: c === 0, minor: false })
      } }
    });
  });
});

// ---------------- class counts (nK x nK) ----------------
mount(COLX[4], ROWY[4], PW, PH, false, true, {
  type: 'bar',
  data: { datasets: [{
    label: 'count', data: groupCounts.map((n, g) => ({ x: g + 1, y: n })), backgroundColor: colors,
    barPercentage: 0.88, categoryPercentage: 1, borderWidth: 0
  }] },
  options: { scales: {
    x: linAxis(0.4, 5.6, [1, 2, 3, 4, 5], { show: true, minor: false, pad: 9, color: '#2B2B2B',
      font: { family: '"Liberation Serif", "Times New Roman", serif', size: 31 }, fmt: v => barLabels[Math.round(v) - 1] }),
    y: linAxis(-115, 2415, barTicks, {})
  } }
});
</script>
</body>
</html>
